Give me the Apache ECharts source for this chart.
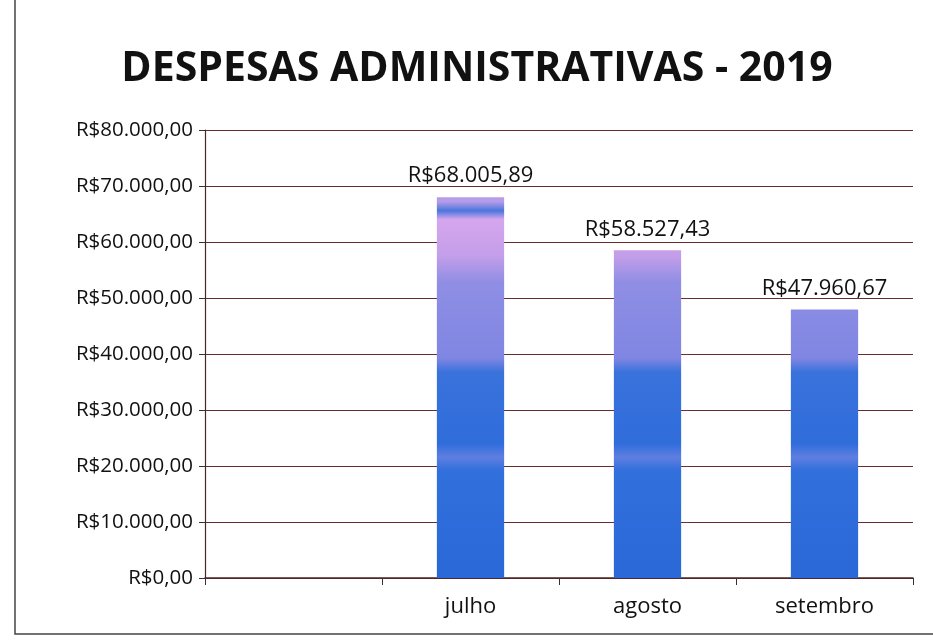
<!DOCTYPE html>
<html>
<head>
<meta charset="utf-8">
<script src="https://cdn.jsdelivr.net/npm/echarts@6/dist/echarts.min.js"></script>
<style>
  html, body { margin: 0; padding: 0; background: #fff; }
  #chart { width: 933px; height: 644px; }
</style>
</head>
<body>
<div id="chart"></div>
<script>
// dados do gráfico
const meses = ['', 'julho', 'agosto', 'setembro']
const despesas = [null, 68005.89, 58527.43, 47960.67]
const eixoY = [0, 10000, 20000, 30000, 40000, 50000, 60000, 70000, 80000]

// formata em reais: R$68.005,89
function reais (v) {
  const partes = v.toFixed(2).split('.')
  const inteiro = partes[0].replace(/\B(?=(\d{3})+(?!\d))/g, '.')
  return 'R$' + inteiro + ',' + partes[1]
}

const myChart = echarts.init(document.getElementById('chart'))

// degradê global: azul embaixo, lilás no meio, rosado em cima
const corBarra = new echarts.graphic.LinearGradient(0, 578, 0, 130, [
  { offset: 0, color: '#2a68d8' },
  { offset: 0.24, color: '#3170dc' },
  { offset: 0.27, color: '#5f7ee0' },
  { offset: 0.3, color: '#2f6ddb' },
  { offset: 0.46, color: '#3a72dc' },
  { offset: 0.49, color: '#7f86e2' },
  { offset: 0.66, color: '#8f8ee4' },
  { offset: 0.72, color: '#c49ee9' },
  { offset: 0.8, color: '#d6a6ee' },
  { offset: 0.82, color: '#4a76dc' },
  { offset: 0.84, color: '#b59be8' },
  { offset: 1, color: '#b59be8' }
], true)

myChart.setOption({
  backgroundColor: '#fff',
  title: {
    text: 'DESPESAS ADMINISTRATIVAS - 2019',
    left: 472,
    textAlign: 'center',
    top: 44,
    textStyle: {
      fontFamily: 'Open Sans',
      fontWeight: 'bold',
      fontSize: 41,
      color: '#111'
    }
  },
  graphic: [
    {
      type: 'rect',
      shape: { x: 15, y: -5, width: 940, height: 639 },
      style: { fill: 'none', stroke: '#444', lineWidth: 1.5 }
    }
  ],
  grid: { left: 205, right: 20, top: 130, bottom: 66 },
  xAxis: {
    type: 'category',
    data: meses,
    axisLine: { lineStyle: { color: '#4a2626', width: 1.5 } },
    axisTick: { show: true, length: 7, lineStyle: { color: '#333' } },
    axisLabel: {
      margin: 18,
      fontFamily: 'Open Sans',
      fontSize: 22,
      color: '#111'
    }
  },
  yAxis: {
    type: 'value',
    min: eixoY[0],
    max: eixoY[eixoY.length - 1],
    interval: 10000,
    axisLine: { show: true, lineStyle: { color: '#4a2626', width: 1.2 } },
    axisTick: { show: true, length: 6, lineStyle: { color: '#333' } },
    splitLine: { lineStyle: { color: '#6a2c2c', width: 1.2 } },
    axisLabel: {
      margin: 12,
      fontFamily: 'Open Sans',
      fontSize: 20.5,
      color: '#111',
      formatter: (v) => reais(v)
    }
  },
  series: [
    {
      type: 'bar',
      data: despesas,
      barWidth: '38%',
      itemStyle: { color: corBarra },
      label: {
        show: true,
        position: 'top',
        distance: 10,
        fontFamily: 'Open Sans',
        fontSize: 22,
        color: '#111',
        formatter: (p) => reais(p.value)
      }
    }
  ]
})
</script>
</body>
</html>
